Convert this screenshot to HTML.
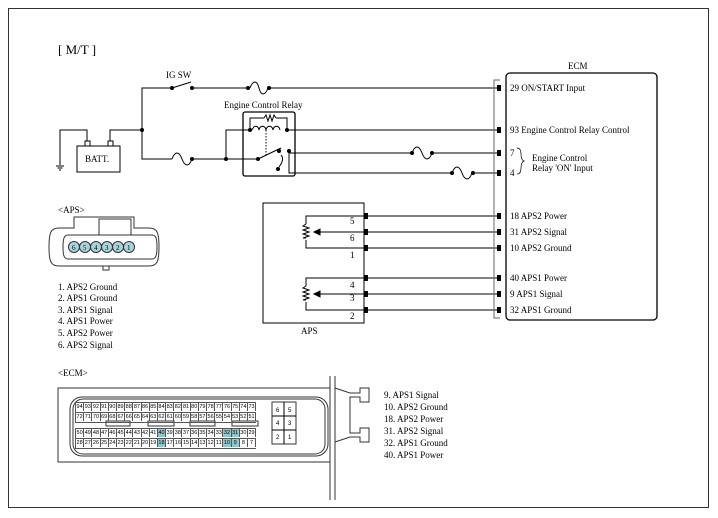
<!DOCTYPE html>
<html><head><meta charset="utf-8"><style>
body{margin:0;background:#fff;font-family:"Liberation Serif",serif;}
#w{position:relative;width:718px;height:518px;overflow:hidden}
svg{position:absolute;left:0;top:0}
.g{position:absolute;font-family:"Liberation Sans",sans-serif;font-size:5.5px;line-height:9px;border-left:1px solid #555}
.r{display:flex;height:9px;border-top:1px solid #555}
.r:last-child{border-bottom:1px solid #555}
.r span{flex:0 0 8.2px;width:8.2px;height:8px;border-right:1px solid #555;text-align:center;box-sizing:border-box;overflow:hidden}
.h{background:#8fc6cc}
</style></head><body><div id="w">
<svg width="718" height="518" viewBox="0 0 718 518" font-family="Liberation Serif, serif" font-size="9" fill="none" stroke="#000">
<rect x="8.5" y="8.5" width="700" height="499" stroke="#333"/>
<text x="58" y="54" font-size="13" fill="#000" stroke="none">[ M/T ]</text>
<polyline points="142,159 142,88 172,88"/>
<line x1="172" y1="88" x2="191" y2="82"/>
<line x1="192" y1="88" x2="250" y2="88"/>
<path d="M250,88 c3,-8 7,-8 9,0 c2,8 6,8 9,0"/>
<line x1="268" y1="88" x2="497" y2="88"/>
<g fill="#000" stroke="none"><circle cx="172" cy="88" r="2"/><circle cx="192" cy="88" r="2"/><circle cx="248" cy="88" r="2"/><circle cx="269" cy="88" r="2"/>
<circle cx="142" cy="130" r="2"/><circle cx="192" cy="159" r="2"/><circle cx="226" cy="159" r="2"/>
<circle cx="250" cy="130" r="2"/><circle cx="287" cy="130" r="2"/><circle cx="258" cy="159" r="2"/><circle cx="279" cy="151" r="2"/><circle cx="289" cy="151" r="2"/><circle cx="278" cy="169" r="2"/>
<circle cx="412" cy="153" r="2"/><circle cx="432" cy="153" r="2"/><circle cx="452" cy="173" r="2"/><circle cx="473" cy="173" r="2"/></g>
<text x="166" y="78" fill="#000" stroke="none">IG SW</text>
<rect x="77" y="146" width="43" height="26"/>
<text x="85" y="162" fill="#000" stroke="none">BATT.</text>
<rect x="85" y="141" width="5" height="5"/><rect x="108" y="141" width="5" height="5"/>
<polyline points="87,141 87,130 60,130 60,165"/>
<line x1="56" y1="166" x2="64" y2="166"/><line x1="57.5" y1="168" x2="62.5" y2="168"/><line x1="59" y1="170" x2="61" y2="170"/>
<polyline points="110,141 110,130 142,130"/>
<polyline points="142,130 142,159 172,159"/>
<path d="M172,159 c3,-8 7,-8 10,0 c3,8 7,8 10,0"/>
<line x1="192" y1="159" x2="258" y2="159"/>
<polyline points="226,159 226,130 250,130"/>
<text x="224" y="108" fill="#000" stroke="none">Engine Control Relay</text>
<rect x="243" y="112" width="52" height="64" rx="2" stroke-width="1.3"/>
<polyline points="250,130 250,118 264,118"/>
<path d="M264,118 l2,-3 2,6 2,-6 2,6 2,-6 2,3"/>
<polyline points="276,118 287,118 287,130"/>
<path d="M252,130 c2,-5 6,-5 7,0 c1,-5 6,-5 7,0 c1,-5 6,-5 7,0 c1,-5 6,-5 7,0" />
<line x1="266" y1="130" x2="266" y2="156" stroke-dasharray="1.5,1.5"/>
<line x1="258" y1="159" x2="281" y2="148"/>
<path d="M281,155 q4,4 -2,12"/>
<line x1="287" y1="130" x2="497" y2="130"/>
<polyline points="289,151 289,173 452,173"/>
<line x1="289" y1="153" x2="412" y2="153"/>
<path d="M412,153 c3,-8 7,-8 10,0 c3,8 7,8 10,0"/>
<line x1="432" y1="153" x2="497" y2="153"/>
<path d="M452,173 c3,-8 7,-8 10,0 c3,8 7,8 10,0"/>
<line x1="473" y1="173" x2="497" y2="173"/>
<g><line x1="368" y1="216" x2="497" y2="216"/><line x1="368" y1="232" x2="497" y2="232"/><line x1="368" y1="248" x2="497" y2="248"/><line x1="368" y1="278" x2="497" y2="278"/><line x1="368" y1="294" x2="497" y2="294"/><line x1="368" y1="310" x2="497" y2="310"/></g>
<text x="568" y="69" fill="#000" stroke="none">ECM</text>
<rect x="506" y="73" width="151" height="247" rx="4" stroke-width="1.3"/>
<polyline points="500,80 494,80 494,318 500,318" stroke="#666"/>
<g fill="#000" stroke="none">
<rect x="497" y="85" width="4" height="6"/><rect x="497" y="127" width="4" height="6"/><rect x="497" y="150" width="4" height="6"/><rect x="497" y="170" width="4" height="6"/>
<rect x="497" y="213" width="4" height="6"/><rect x="497" y="229" width="4" height="6"/><rect x="497" y="245" width="4" height="6"/><rect x="497" y="275" width="4" height="6"/><rect x="497" y="291" width="4" height="6"/><rect x="497" y="307" width="4" height="6"/>
<rect x="364" y="213" width="4" height="6"/><rect x="364" y="229" width="4" height="6"/><rect x="364" y="245" width="4" height="6"/><rect x="364" y="275" width="4" height="6"/><rect x="364" y="291" width="4" height="6"/><rect x="364" y="307" width="4" height="6"/>
<text x="510" y="91">29  ON/START Input</text>
<text x="510" y="133">93 Engine Control Relay Control</text>
<text x="510" y="156">7</text><text x="510" y="176">4</text>
<text x="532" y="161">Engine Control</text><text x="532" y="171">Relay 'ON' Input</text>
<text x="510" y="219">18 APS2 Power</text><text x="510" y="235">31 APS2 Signal</text><text x="510" y="251">10 APS2 Ground</text>
<text x="510" y="281">40 APS1 Power</text><text x="510" y="297">9 APS1 Signal</text><text x="510" y="313">32 APS1 Ground</text>
</g>
<path d="M517,148 q4,0 4,6 q0,6 3,7 q-3,1 -3,7 q0,6 -4,6" stroke-width="0.7"/>
<rect x="263" y="203" width="101" height="120" stroke-width="1"/>
<polyline points="368,216 306,216 306,224"/><polyline points="306,240 306,248 368,248"/>
<path d="M306,224 l-3,2 6,2 -6,2 6,2 -6,2 6,2 -6,2 3,0" />
<line x1="368" y1="232" x2="320" y2="232"/><path d="M314,232 l6,-3 0,6z" fill="#000"/>
<polyline points="368,278 306,278 306,286"/><polyline points="306,302 306,310 368,310"/>
<path d="M306,286 l-3,2 6,2 -6,2 6,2 -6,2 6,2 -6,2 3,0" />
<line x1="368" y1="294" x2="320" y2="294"/><path d="M314,294 l6,-3 0,6z" fill="#000"/>
<g fill="#000" stroke="none"><text x="350" y="224">5</text><text x="350" y="241">6</text><text x="350" y="258">1</text><text x="350" y="288">4</text><text x="350" y="301">3</text><text x="350" y="319">2</text>
<text x="301" y="334">APS</text>
<text x="58" y="213">&lt;APS&gt;</text>
<text x="58" y="290">1.  APS2 Ground</text><text x="58" y="301">2.  APS1 Ground</text><text x="58" y="313">3.  APS1 Signal</text><text x="58" y="324">4.  APS1 Power</text><text x="58" y="336">5.  APS2 Power</text><text x="58" y="348">6.  APS2 Signal</text>
<text x="58" y="376">&lt;ECM&gt;</text>
<text x="384" y="398">9.  APS1 Signal</text><text x="384" y="410">10.  APS2 Ground</text><text x="384" y="422">18.  APS2 Power</text><text x="384" y="434">31.  APS2 Signal</text><text x="384" y="446">32.  APS1 Ground</text><text x="384" y="458">40.  APS1 Power</text></g>
<path d="M96,217 h38 v11 h15 c8,0 10,4 10,19 c0,15 -2,19 -10,19 h-90 c-8,0 -10,-4 -10,-19 c0,-15 2,-19 10,-19 h15 v-11z" stroke="#333"/>
<path d="M68,235 h84 c4,0 5,4 5,12 c0,8 -1,12 -5,12 h-84 c-4,0 -5,-4 -5,-12 c0,-8 1,-12 5,-12z" stroke="#333"/>
<rect x="99" y="219" width="32" height="16" stroke="#333"/><rect x="103" y="266" width="6" height="4" stroke="#333"/>
<g stroke="#333" fill="#aad4dc"><circle cx="74" cy="247" r="5.5"/><circle cx="85" cy="247" r="5.5"/><circle cx="96" cy="247" r="5.5"/><circle cx="107" cy="247" r="5.5"/><circle cx="118" cy="247" r="5.5"/><circle cx="129" cy="247" r="5.5"/></g>
<g fill="#000" stroke="none" font-size="7"><text x="72" y="250">6</text><text x="83" y="250">5</text><text x="94" y="250">4</text><text x="105" y="250">3</text><text x="116" y="250">2</text><text x="127" y="250">1</text></g>
<path d="M58,388 h272 v74 h-272z" stroke="#333"/>
<rect x="70" y="397" width="258" height="59" rx="12" stroke="#333"/>
<rect x="73" y="399" width="252" height="55" rx="10" stroke="#333"/>
<rect x="272" y="402" width="24" height="42" stroke="#333"/>
<line x1="272" y1="416" x2="296" y2="416"/><line x1="272" y1="430" x2="296" y2="430"/><line x1="284" y1="402" x2="284" y2="444"/>
<g fill="#000" stroke="none" font-size="6" font-family="Liberation Sans,sans-serif"><text x="276" y="412">6</text><text x="288" y="412">5</text><text x="276" y="425">4</text><text x="288" y="425">3</text><text x="276" y="439">2</text><text x="288" y="439">1</text></g>
<rect x="106" y="421" width="24" height="5" stroke="#333"/><rect x="148" y="421" width="26" height="5" stroke="#333"/><rect x="190" y="421" width="25" height="5" stroke="#333"/><rect x="232" y="421" width="26" height="5" stroke="#333"/>
<polyline points="330,376 330,500" stroke="#333"/><polyline points="335,376 335,500" stroke="#333"/>
<path d="M335,388 l15,5 h10 v-5 h9 v14 h-9 v-5 h-10 v36 h10 v-5 h9 v14 h-9 v-5 h-10 l-15,5" stroke="#333"/>
</svg>
<div class="g" style="left:75px;top:402px">
<div class="r"><span>94</span><span>93</span><span>92</span><span>91</span><span>90</span><span>89</span><span>88</span><span>87</span><span>86</span><span>85</span><span>84</span><span>83</span><span>82</span><span>81</span><span>80</span><span>79</span><span>78</span><span>77</span><span>76</span><span>75</span><span>74</span><span>73</span></div>
<div class="r"><span>72</span><span>71</span><span>70</span><span>69</span><span>68</span><span>67</span><span>66</span><span>65</span><span>64</span><span>63</span><span>62</span><span>61</span><span>60</span><span>59</span><span>58</span><span>57</span><span>56</span><span>55</span><span>54</span><span>53</span><span>52</span><span>51</span></div>
</div>
<div class="g" style="left:75px;top:428px">
<div class="r"><span>50</span><span>49</span><span>48</span><span>47</span><span>46</span><span>45</span><span>44</span><span>43</span><span>42</span><span>41</span><span class="h">40</span><span>39</span><span>38</span><span>37</span><span>36</span><span>35</span><span>34</span><span>33</span><span class="h">32</span><span class="h">31</span><span>30</span><span>29</span></div>
<div class="r"><span>28</span><span>27</span><span>26</span><span>25</span><span>24</span><span>23</span><span>22</span><span>21</span><span>20</span><span>19</span><span class="h">18</span><span>17</span><span>16</span><span>15</span><span>14</span><span>13</span><span>12</span><span>11</span><span class="h">10</span><span class="h">9</span><span>8</span><span>7</span></div>
</div>
</div></body></html>
